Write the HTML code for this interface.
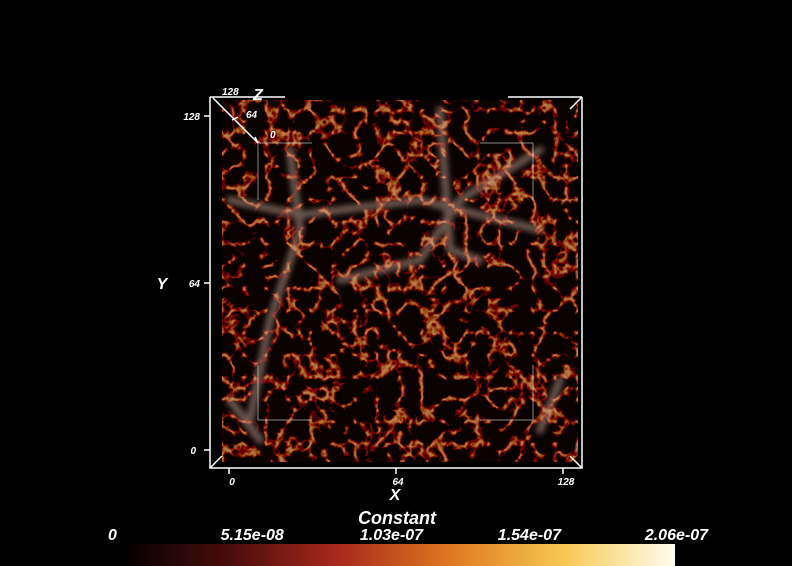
<!DOCTYPE html>
<html><head><meta charset="utf-8"><style>
html,body{margin:0;padding:0;background:#000;width:792px;height:566px;overflow:hidden}
svg text{font-family:"Liberation Sans",sans-serif;font-style:italic;fill:#fff}
</style></head><body>
<svg id="c" width="792" height="566" viewBox="0 0 792 566">
<defs>
<filter id="tex" x="0" y="0" width="100%" height="100%">
<feTurbulence type="turbulence" baseFrequency="0.045" numOctaves="3" seed="7" result="n"/>
<feColorMatrix in="n" type="matrix" values="0 0 0 -4.5 1.05  0 0 0 -3.2 0.5  0 0 0 -1.4 0.18  0 0 0 0 1"/>
</filter>
<filter id="blur"><feGaussianBlur stdDeviation="3"/></filter>
<linearGradient id="cmap" x1="0" x2="1" y1="0" y2="0">
<stop offset="0" stop-color="#000"/>
<stop offset="0.2" stop-color="#4a0c0c"/>
<stop offset="0.4" stop-color="#aa2a1c"/>
<stop offset="0.6" stop-color="#e07a20"/>
<stop offset="0.8" stop-color="#f6c850"/>
<stop offset="1" stop-color="#fffdf0"/>
</linearGradient>
</defs>
<rect width="792" height="566" fill="#000"/>
<g>
<rect x="222" y="100" width="356" height="362" fill="#240b05"/>
<rect x="222" y="100" width="356" height="362" filter="url(#tex)" opacity="0.75"/>
<g filter="url(#blur)" stroke="#c9a898" stroke-width="8" fill="none" opacity="0.5" stroke-linecap="round">
<path d="M290 150 L300 230 L270 320 L250 420"/>
<path d="M540 150 L460 200 L420 260 L340 280"/>
<path d="M230 200 L300 215 L420 200 L540 230"/>
<path d="M440 110 L450 250 L480 260"/>
<path d="M560 380 L540 430"/>
<path d="M230 400 L260 440"/>
</g>
</g>
<g stroke="#ddd" stroke-width="1" fill="none" opacity="0.6">
<path d="M258 143 H312 M258 143 V200 M533 143 H480 M533 143 V200 M258 420 H312 M258 420 V365 M533 420 H480 M533 420 V365"/>
</g>
<g stroke="#fff" stroke-width="1.5" fill="none">
<path d="M210 97 V468 H582 V97"/>
<path d="M210 97 H285 M508 97 H582"/>
<path d="M213 98 L258 143"/>
<path d="M210 468 L222 456 M582 468 L570 456 M582 97 L570 109"/>
<path d="M229 468 V474 M396 468 V474 M563 468 V474"/>
<path d="M210 116 H204 M210 283 H204 M210 450 H204"/>
<path d="M238 117 L232 120 M258 143 L255 137"/>
</g>
<g font-size="10" font-weight="bold">
<text x="232" y="485" text-anchor="middle">0</text>
<text x="398" y="485" text-anchor="middle">64</text>
<text x="566" y="485" text-anchor="middle">128</text>
<text x="200" y="120" text-anchor="end">128</text>
<text x="200" y="287" text-anchor="end">64</text>
<text x="196" y="454" text-anchor="end">0</text>
<text x="222" y="95">128</text>
<text x="246" y="118">64</text>
<text x="270" y="138">0</text>
</g>
<text x="395" y="500" font-size="16" font-weight="bold" text-anchor="middle">X</text>
<text x="162" y="289" font-size="16" font-weight="bold" text-anchor="middle">Y</text>
<text x="258" y="100" font-size="16" font-weight="bold" text-anchor="middle">Z</text>
<text x="397" y="524" font-size="18" font-weight="bold" text-anchor="middle">Constant</text>
<rect x="118" y="544" width="557" height="22" fill="url(#cmap)"/>
<g id="cbticks" font-size="16" font-weight="bold"></g>
</svg>
<script>
const cbValues = [0, 5.15e-8, 1.03e-7, 1.54e-7, 2.06e-7];
const cbLabels = ["0", "5.15e-08", "1.03e-07", "1.54e-07", "2.06e-07"];
const cbMax = 2.06e-7;
const g = document.getElementById('cbticks');
cbValues.forEach((v, i) => {
  const x = 118 + (v / cbMax) * 557;
  const t = document.createElementNS('http://www.w3.org/2000/svg', 'text');
  
  
  const anchor = i === 0 ? 'start' : (i === cbValues.length - 1 ? 'end' : 'middle');
  t.setAttribute('x', i === 0 ? 108 : (i === cbValues.length - 1 ? 708 : x - 5));
  t.setAttribute('y', 540);
  t.setAttribute('text-anchor', anchor);
  t.textContent = cbLabels[i];
  g.appendChild(t);
});
</script>
</body></html>
